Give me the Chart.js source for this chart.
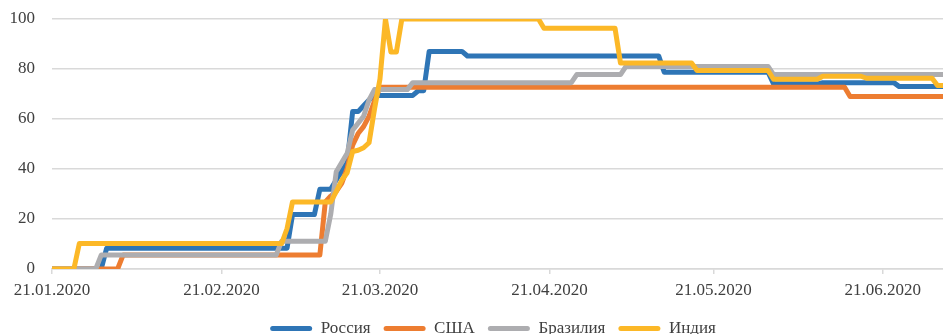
<!DOCTYPE html>
<html lang="ru">
<head>
<meta charset="utf-8">
<title>Индекс строгости мер</title>
<script src="https://cdn.jsdelivr.net/npm/chart.js@4.4.1/dist/chart.umd.min.js"></script>
<style>
  html, body { margin: 0; padding: 0; background: #fff; overflow: hidden; }
  /* холст чуть выше окна: нижний край подписей легенды обрезается */
  #wrap { position: relative; width: 943px; height: 347px; }
</style>
</head>
<body>
<div id="wrap"><canvas id="chart"></canvas></div>
<script>
// ось X — номер дня от 21.01.2020, подписи на 21-е число каждого месяца
const tickDays = [0, 31, 60, 91, 121, 152];
const tickLabels = ['21.01.2020', '21.02.2020', '21.03.2020', '21.04.2020', '21.05.2020', '21.06.2020'];
const lastDay = 163;

const countries = ['Россия', 'США', 'Бразилия', 'Индия'];
const colors = ['#2e75b6', '#ed7d31', '#adadb0', '#fcb827'];

// значения по дням, по 10 в строке
const russia = [
  0, 0, 0, 0, 0, 0, 0, 0, 0, 0,
  8.33, 8.33, 8.33, 8.33, 8.33, 8.33, 8.33, 8.33, 8.33, 8.33,
  8.33, 8.33, 8.33, 8.33, 8.33, 8.33, 8.33, 8.33, 8.33, 8.33,
  8.33, 8.33, 8.33, 8.33, 8.33, 8.33, 8.33, 8.33, 8.33, 8.33,
  8.33, 8.33, 8.33, 8.33, 21.76, 21.76, 21.76, 21.76, 21.76, 31.94,
  31.94, 31.94, 35.6, 39.2, 42.59, 62.96, 62.96, 65.3, 67.6, 69.44,
  69.44, 69.44, 69.44, 69.44, 69.44, 69.44, 69.44, 71.3, 71.3, 87.04,
  87.04, 87.04, 87.04, 87.04, 87.04, 87.04, 85.19, 85.19, 85.19, 85.19,
  85.19, 85.19, 85.19, 85.19, 85.19, 85.19, 85.19, 85.19, 85.19, 85.19,
  85.19, 85.19, 85.19, 85.19, 85.19, 85.19, 85.19, 85.19, 85.19, 85.19,
  85.19, 85.19, 85.19, 85.19, 85.19, 85.19, 85.19, 85.19, 85.19, 85.19,
  85.19, 85.19, 78.7, 78.7, 78.7, 78.7, 78.7, 78.7, 78.7, 78.7,
  78.7, 78.7, 78.7, 78.7, 78.7, 78.7, 78.7, 78.7, 78.7, 78.7,
  78.7, 78.7, 74.07, 74.07, 74.07, 74.07, 74.07, 74.07, 74.07, 74.07,
  74.07, 74.54, 74.54, 74.54, 74.54, 74.54, 74.54, 74.54, 74.54, 74.54,
  74.54, 74.54, 74.54, 74.54, 74.54, 72.96, 72.96, 72.96, 72.96, 72.96,
  72.96, 72.96, 72.96, 72.96
];

const usa = [
  0, 0, 0, 0, 0, 0, 0, 0, 0, 0,
  0, 0, 0, 5.56, 5.56, 5.56, 5.56, 5.56, 5.56, 5.56,
  5.56, 5.56, 5.56, 5.56, 5.56, 5.56, 5.56, 5.56, 5.56, 5.56,
  5.56, 5.56, 5.56, 5.56, 5.56, 5.56, 5.56, 5.56, 5.56, 5.56,
  5.56, 5.56, 5.56, 5.56, 5.56, 5.56, 5.56, 5.56, 5.56, 5.56,
  26.85, 29.17, 31.02, 34.26, 40.28, 49.54, 54.17, 56.94, 61.11, 67.13,
  72.69, 72.69, 72.69, 72.69, 72.69, 72.69, 72.69, 72.69, 72.69, 72.69,
  72.69, 72.69, 72.69, 72.69, 72.69, 72.69, 72.69, 72.69, 72.69, 72.69,
  72.69, 72.69, 72.69, 72.69, 72.69, 72.69, 72.69, 72.69, 72.69, 72.69,
  72.69, 72.69, 72.69, 72.69, 72.69, 72.69, 72.69, 72.69, 72.69, 72.69,
  72.69, 72.69, 72.69, 72.69, 72.69, 72.69, 72.69, 72.69, 72.69, 72.69,
  72.69, 72.69, 72.69, 72.69, 72.69, 72.69, 72.69, 72.69, 72.69, 72.69,
  72.69, 72.69, 72.69, 72.69, 72.69, 72.69, 72.69, 72.69, 72.69, 72.69,
  72.69, 72.69, 72.69, 72.69, 72.69, 72.69, 72.69, 72.69, 72.69, 72.69,
  72.69, 72.69, 72.69, 72.69, 72.69, 72.69, 68.98, 68.98, 68.98, 68.98,
  68.98, 68.98, 68.98, 68.98, 68.98, 68.98, 68.98, 68.98, 68.98, 68.98,
  68.98, 68.98, 68.98, 68.98
];

const brazil = [
  0, 0, 0, 0, 0, 0, 0, 0, 0, 5.56,
  5.56, 5.56, 5.56, 5.56, 5.56, 5.56, 5.56, 5.56, 5.56, 5.56,
  5.56, 5.56, 5.56, 5.56, 5.56, 5.56, 5.56, 5.56, 5.56, 5.56,
  5.56, 5.56, 5.56, 5.56, 5.56, 5.56, 5.56, 5.56, 5.56, 5.56,
  5.56, 5.56, 11.11, 11.11, 11.11, 11.11, 11.11, 11.11, 11.11, 11.11,
  11.11, 22, 38.9, 42.6, 46.3, 55.56, 58.33, 61.11, 67.59, 71.76,
  71.76, 71.76, 71.76, 71.76, 71.76, 71.76, 74.54, 74.54, 74.54, 74.54,
  74.54, 74.54, 74.54, 74.54, 74.54, 74.54, 74.54, 74.54, 74.54, 74.54,
  74.54, 74.54, 74.54, 74.54, 74.54, 74.54, 74.54, 74.54, 74.54, 74.54,
  74.54, 74.54, 74.54, 74.54, 74.54, 74.54, 77.78, 77.78, 77.78, 77.78,
  77.78, 77.78, 77.78, 77.78, 77.78, 81.02, 81.02, 81.02, 81.02, 81.02,
  81.02, 81.02, 81.02, 81.02, 81.02, 81.02, 81.02, 81.02, 81.02, 81.02,
  81.02, 81.02, 81.02, 81.02, 81.02, 81.02, 81.02, 81.02, 81.02, 81.02,
  81.02, 81.02, 77.78, 77.78, 77.78, 77.78, 77.78, 77.78, 77.78, 77.78,
  77.78, 77.78, 77.78, 77.78, 77.78, 77.78, 77.78, 77.78, 77.78, 77.78,
  77.78, 77.78, 77.78, 77.78, 77.78, 77.78, 77.78, 77.78, 77.78, 77.78,
  77.78, 77.78, 77.78, 77.78
];

const india = [
  0, 0, 0, 0, 0, 10.19, 10.19, 10.19, 10.19, 10.19,
  10.19, 10.19, 10.19, 10.19, 10.19, 10.19, 10.19, 10.19, 10.19, 10.19,
  10.19, 10.19, 10.19, 10.19, 10.19, 10.19, 10.19, 10.19, 10.19, 10.19,
  10.19, 10.19, 10.19, 10.19, 10.19, 10.19, 10.19, 10.19, 10.19, 10.19,
  10.19, 10.19, 10.19, 16.2, 26.85, 26.85, 26.85, 26.85, 26.85, 26.85,
  26.85, 26.85, 31, 35.5, 38.5, 47, 47.5, 48.5, 50.5, 64,
  76, 100, 86.8, 86.8, 100, 100, 100, 100, 100, 100,
  100, 100, 100, 100, 100, 100, 100, 100, 100, 100,
  100, 100, 100, 100, 100, 100, 100, 100, 100, 100,
  96.3, 96.3, 96.3, 96.3, 96.3, 96.3, 96.3, 96.3, 96.3, 96.3,
  96.3, 96.3, 96.3, 96.3, 82.4, 82.4, 82.4, 82.4, 82.4, 82.4,
  82.4, 82.4, 82.4, 82.4, 82.4, 82.4, 82.4, 82.4, 79.4, 79.4,
  79.4, 79.4, 79.4, 79.4, 79.4, 79.4, 79.4, 79.4, 79.4, 79.4,
  79.4, 79.4, 75.9, 75.9, 75.9, 75.9, 75.9, 75.9, 75.9, 75.9,
  75.9, 77.1, 77.1, 77.1, 77.1, 77.1, 77.1, 77.1, 77.1, 76.3,
  76.3, 76.3, 76.3, 76.3, 76.3, 76.3, 76.3, 76.3, 76.3, 76.3,
  76.3, 76.3, 73.4, 73.4
];

const seriesValues = [russia, usa, brazil, india];

const textColor = '#404040';
const gridColor = '#d9d9d9';
const serif = "'Liberation Serif', 'Times New Roman', serif";

// сдвиг легенды вправо, чтобы она стояла по центру как в исходной диаграмме
const legendShift = {
  id: 'legendShift',
  afterLayout(chart) {
    chart.legend.left += 43;
  }
};

const datasets = seriesValues.map((values, k) => ({
  label: countries[k],
  data: values.map((v, day) => ({ x: day, y: v })),
  borderColor: colors[k],
  backgroundColor: colors[k],
  borderWidth: 5,
  borderJoinStyle: 'round',
  borderCapStyle: 'round',
  pointRadius: 0,
  tension: 0,
  // Индия рисуется поверх остальных
  order: seriesValues.length - k
}));

new Chart(document.getElementById('chart'), {
  type: 'line',
  data: { datasets },
  options: {
    responsive: true,
    maintainAspectRatio: false,
    animation: false,
    events: [],
    layout: { padding: { top: 19, left: 0, right: 0, bottom: 0 } },
    scales: {
      x: {
        type: 'linear',
        min: 0,
        max: lastDay,
        afterBuildTicks: (scale) => {
          scale.ticks = tickDays.map(value => ({ value }));
        },
        ticks: {
          autoSkip: false,
          maxRotation: 0,
          padding: -2,
          color: textColor,
          font: { family: serif, size: 17, lineHeight: '37px' },
          callback: (value) => tickLabels[tickDays.indexOf(value)]
        },
        grid: {
          drawOnChartArea: false,
          drawTicks: true,
          tickLength: 5,
          color: gridColor,
          lineWidth: 1.5
        },
        border: { display: true, color: gridColor, width: 1.5 }
      },
      y: {
        min: 0,
        max: 100,
        afterFit: (scale) => { scale.width = 52; },
        ticks: {
          stepSize: 20,
          padding: 0,
          color: textColor,
          font: { family: serif, size: 17 }
        },
        // невидимые засечки дают отступ подписей от сетки
        grid: {
          color: gridColor,
          lineWidth: 1.5,
          drawTicks: true,
          tickLength: 17,
          tickColor: 'rgba(0, 0, 0, 0)'
        },
        border: { display: false }
      }
    },
    plugins: {
      tooltip: { enabled: false },
      legend: {
        position: 'bottom',
        labels: {
          boxWidth: 42,
          boxHeight: 5,
          useBorderRadius: true,
          borderRadius: 2.5,
          padding: 13,
          color: textColor,
          font: { family: serif, size: 17 },
          sort: (a, b) => a.datasetIndex - b.datasetIndex,
          generateLabels: (chart) =>
            Chart.defaults.plugins.legend.labels.generateLabels(chart)
              .map(item => ({ ...item, lineWidth: 0 }))
        }
      }
    }
  },
  plugins: [legendShift]
});
</script>
</body>
</html>
